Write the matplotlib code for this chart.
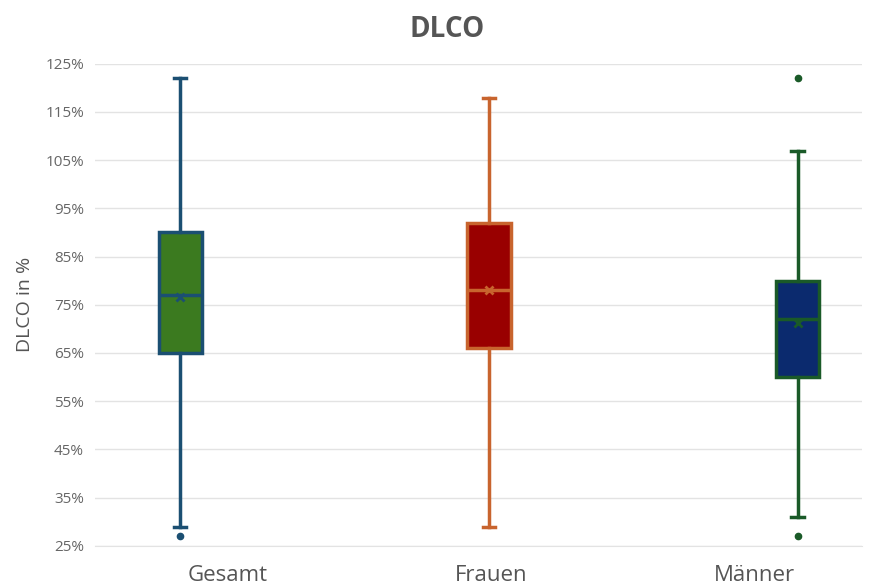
import matplotlib.pyplot as plt
import numpy as np

plt.rcParams['font.family'] = ['Open Sans', 'DejaVu Sans']

# data (percent)
groups = ['Gesamt', 'Frauen', 'Männer']
whislo = [29, 29, 31]
q1 = [65, 66, 60]
med = [77, 78, 72]
mean = [76.7, 78, 71.3]
q3 = [90, 92, 80]
whishi = [122, 118, 107]
fliers = [[27], [], [27, 122]]

fills = ['#3b7a1f', '#990000', '#0b2a6e']
edges = ['#1b4f72', '#c8642e', '#1a5a28']

stats = []
for i, g in enumerate(groups):
    stats.append(dict(label=g, whislo=whislo[i], q1=q1[i], med=med[i], mean=mean[i],
                      q3=q3[i], whishi=whishi[i], fliers=fliers[i]))

fig = plt.figure(figsize=(8.72, 5.85), dpi=100)
ax = fig.add_axes([0.109, 0.067, 0.880, 0.824])

for i, s in enumerate(stats):
    c = edges[i]
    ax.bxp([s], positions=[i], widths=0.14, patch_artist=True, showmeans=True,
           boxprops=dict(facecolor=fills[i], edgecolor=c, linewidth=2.5),
           medianprops=dict(color=c, linewidth=2.5),
           whiskerprops=dict(color=c, linewidth=2.5),
           capprops=dict(color=c, linewidth=2.5),
           capwidths=0.04,
           meanprops=dict(marker='x', markeredgecolor=c, markersize=6, markeredgewidth=2),
           flierprops=dict(marker='o', markerfacecolor=c, markeredgecolor=c, markersize=4.5))

ax.set_xlim(-0.276, 2.21)
ax.set_ylim(25, 125)
ticks = np.arange(25, 126, 10)
ax.set_yticks(ticks)
ax.set_yticklabels([f'{t}%' for t in ticks], color='#666666', fontsize=11)
# category labels sit at the band centres, not exactly under the boxes
ax.set_xticks([0.153, 1.006, 1.86])
ax.set_xticklabels(groups, color='#555555', fontsize=16)
ax.tick_params(axis='y', length=0, pad=8)
ax.tick_params(axis='x', length=0, pad=14)
ax.yaxis.grid(True, color='#e3e3e3', linewidth=1)
ax.set_axisbelow(True)
for sp in ['top', 'right', 'left']:
    ax.spines[sp].set_visible(False)
ax.spines['bottom'].set_color('#e3e3e3')
ax.set_ylabel('DLCO in %', color='#555555', fontsize=14, labelpad=8)
fig.suptitle('DLCO', x=0.513, y=0.975, fontsize=20, fontweight='bold', color='#555555')

fig.savefig('out.png', dpi=100)
